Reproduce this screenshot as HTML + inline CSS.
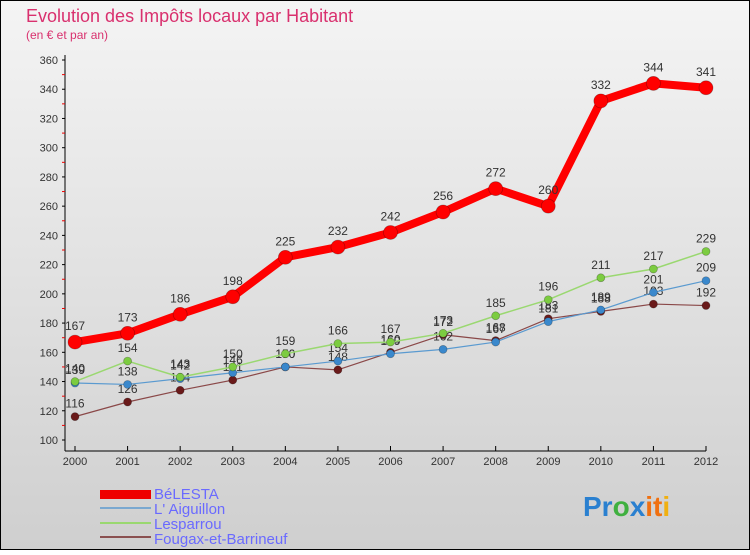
<!DOCTYPE html>
<html><head><meta charset="utf-8"><style>
body{margin:0;width:750px;height:550px;overflow:hidden;font-family:"Liberation Sans",sans-serif}
</style></head><body>
<svg id="c" width="750" height="550" xmlns="http://www.w3.org/2000/svg">
<defs><linearGradient id="bg" x1="0" y1="0" x2="0" y2="1"><stop offset="0" stop-color="#f4f4f4"/><stop offset="1" stop-color="#cfcfcf"/></linearGradient></defs>
<rect x="0.5" y="0.5" width="749" height="549" fill="url(#bg)" stroke="#000"/>
<text x="26" y="22" font-size="18" fill="#d9306e">Evolution des Impôts locaux par Habitant</text>
<text x="26" y="39" font-size="12" fill="#d9306e">(en € et par an)</text>
<g id="axes"></g><g id="series"></g>
<g font-size="15" fill="#6a6aff">
<rect x="100" y="490" width="51" height="9" fill="#e00"/>
<text x="154" y="499">BéLESTA</text>
<rect x="100" y="507" width="51" height="2" fill="#7aa8d0"/>
<text x="154" y="514">L' Aiguillon</text>
<rect x="100" y="522" width="51" height="2" fill="#9ad870"/>
<text x="154" y="529">Lesparrou</text>
<rect x="100" y="536" width="51" height="2" fill="#8a5050"/>
<text x="154" y="544">Fougax-et-Barrineuf</text>
</g>
<text x="583" y="516" font-size="28" font-weight="bold"><tspan fill="#2a80d0">Pr</tspan><tspan fill="#40b040">o</tspan><tspan fill="#2a80d0">x</tspan><tspan fill="#f07010">it</tspan><tspan fill="#f0b010">i</tspan></text>
</svg>
<script>
const years=["2000","2001","2002","2003","2004","2005","2006","2007","2008","2009","2010","2011","2012"];
const yTicks=[100,120,140,160,180,200,220,240,260,280,300,320,340,360];
const belesta=[167,173,186,198,225,232,242,256,272,260,332,344,341];
const aiguillon=[139,138,142,146,150,154,159,162,167,181,189,201,209];
const lesparrou=[140,154,143,150,159,166,167,173,185,196,211,217,229];
const fougax=[116,126,134,141,150,148,160,172,168,183,188,193,192];
const NS="http://www.w3.org/2000/svg";
const X=i=>75+i*(706-75)/(years.length-1);
const Y=v=>440-(v-100)*(380/260);
function mk(t,a,p){const e=document.createElementNS(NS,t);for(const k in a)e.setAttribute(k,a[k]);p.appendChild(e);return e;}
const ax=document.getElementById('axes');
let yl=mk('line',{x1:65,y1:55,x2:65,y2:451,stroke:'#000'},ax);


let xl=mk('line',{x1:65,y1:451,x2:706,y2:451,stroke:'#000'},ax);


yTicks.forEach((v,i)=>{const y=Y(v);
 mk('line',{x1:62,y1:y,x2:65,y2:y,stroke:'#000'},ax);
 if(i<yTicks.length-1) mk('line',{x1:62,y1:y-14.6,x2:65,y2:y-14.6,stroke:'#e00'},ax);
 const t=mk('text',{x:58,y:y+4,'font-size':11,'text-anchor':'end',fill:'#333'},ax);t.textContent=v;
 
 });
years.forEach((yr,i)=>{const x=X(i);
 mk('line',{x1:x,y1:446,x2:x,y2:451,stroke:'#000'},ax);
 const t=mk('text',{x:x,y:465,'font-size':11,'text-anchor':'middle',fill:'#333'},ax);t.textContent=yr;
 
 });
const sg=document.getElementById('series');
function draw(data,color,w,r,name,dot){
 const g=mk('g',{},sg);
 
 
 mk('polyline',{points:data.map((v,i)=>X(i)+','+Y(v)).join(' '),fill:'none',stroke:color,'stroke-width':w,'stroke-linejoin':'round'},g);
 data.forEach((v,i)=>{const c=mk('circle',{cx:X(i),cy:Y(v),r:r,fill:dot,stroke:'rgba(0,0,0,0.3)','stroke-width':0.7},g);
  
  
  const t=mk('text',{x:X(i),y:Y(v)-(r+5),'font-size':12,'text-anchor':'middle',fill:'#333'},g);t.textContent=v;
  
  });
}
draw(fougax,'#8a4848',1.2,4,'series-fougax','#6a1a1a');
draw(aiguillon,'#5a9ad0',1.2,4,'series-aiguillon','#3a88cc');
draw(lesparrou,'#9ad870',1.5,4,'series-lesparrou','#7ccc40');
draw(belesta,'#f00',8,7,'series-belesta','#f00');
</script>
</body></html>
